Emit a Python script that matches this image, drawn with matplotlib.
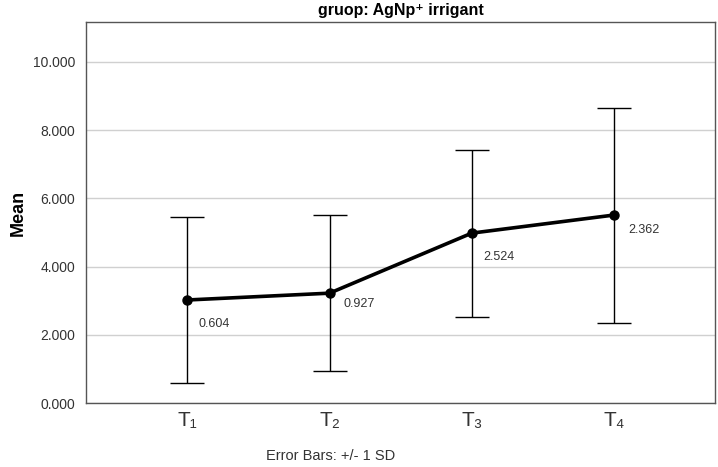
import numpy as np
import matplotlib.pyplot as plt

plt.rcParams['font.family'] = ['Liberation Sans', 'DejaVu Sans']

# data
times = ['T\u2081', 'T\u2082', 'T\u2083', 'T\u2084']
means = [3.02, 3.22, 4.98, 5.51]
sds = [2.42, 2.29, 2.45, 3.15]
labels = ['0.604', '0.927', '2.524', '2.362']
label_offsets = [(8, -17), (10, -8), (8, -17), (10, -11)]

x = np.arange(1, len(times) + 1)

fig = plt.figure(figsize=(7.18, 4.67), dpi=100)
ax = fig.add_axes([0.12, 0.137, 0.876, 0.816])

ax.errorbar(x, means, yerr=sds, fmt='none', ecolor='black', elinewidth=1,
            capsize=12, capthick=1, zorder=3)
ax.plot(x, means, color='black', lw=2.6, marker='o', ms=6.5, zorder=4)

for xi, m, lab, off in zip(x, means, labels, label_offsets):
    ax.annotate(lab, (xi, m), xytext=off, textcoords='offset points',
                fontsize=9, color='#333333', va='center', ha='left')

ax.set_xlim(1 - 0.711, 4 + 0.711)
ax.set_ylim(0, 11.17)
ax.set_yticks(np.arange(0, 11, 2))
ax.set_yticklabels(['%.3f' % v for v in np.arange(0, 11, 2)])
ax.set_xticks(x)
ax.set_xticklabels(times, fontsize=15, color='#333333')
ax.tick_params(axis='y', length=0, labelsize=10, colors='#333333', pad=8)
ax.tick_params(axis='x', length=0, pad=6)
ax.yaxis.grid(True, color='#d0d0d0', lw=1)
ax.set_axisbelow(True)
for s in ax.spines.values():
    s.set_color('#555555')
    s.set_linewidth(1)

ax.set_ylabel('Mean', fontsize=13, fontweight='bold', labelpad=0)
ax.yaxis.set_label_coords(-0.095, 0.5)
ax.set_title('gruop: AgNp\u207a irrigant', fontsize=11.5, fontweight='bold', pad=5)
fig.text(0.46, 0.015, 'Error Bars: +/- 1 SD', ha='center', fontsize=10.5, color='#333333')

fig.savefig('out.png', dpi=100)
